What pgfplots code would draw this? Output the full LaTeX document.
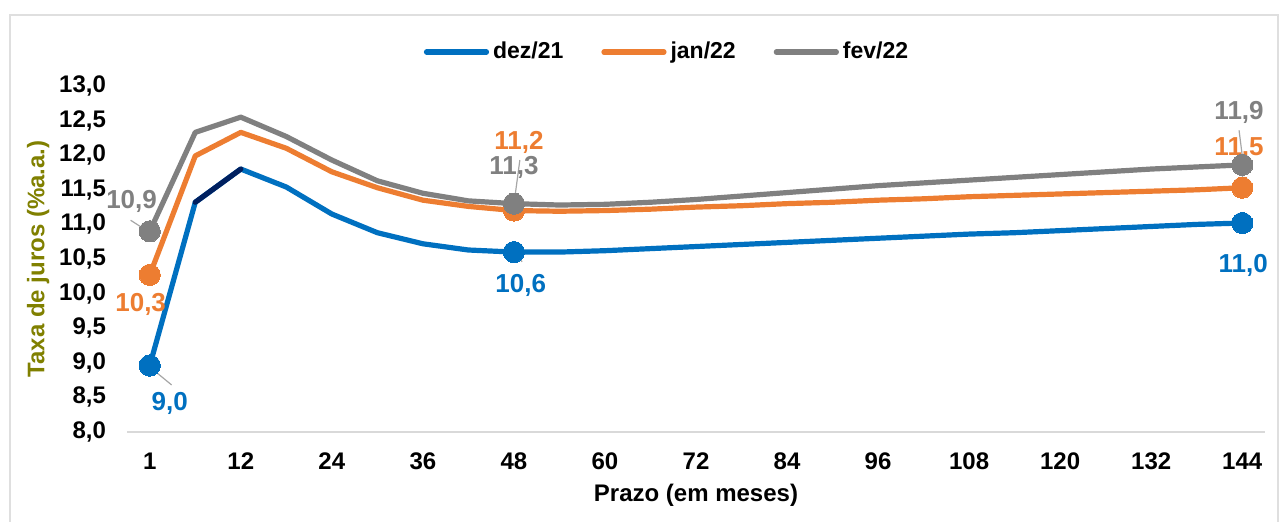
\documentclass[border=0pt]{standalone}
\usepackage{fontspec}
\setmainfont{Liberation Sans}
\usepackage{pgfplots}
\usepackage{pgfplotstable}
\pgfplotsset{compat=1.18}
\definecolor{cblue}{RGB}{0,112,192}
\definecolor{corange}{RGB}{237,125,49}
\definecolor{cgray}{RGB}{128,128,128}
\definecolor{cnavy}{RGB}{0,32,96}
\definecolor{colive}{RGB}{128,128,0}
\definecolor{cleader}{RGB}{166,166,166}

\pgfplotstableread{
i dez jan fev
0 8.96 10.27 10.90
1 11.32 11.99 12.33
2 11.80 12.33 12.55
3 11.54 12.10 12.27
4 11.15 11.76 11.93
5 10.88 11.53 11.63
6 10.72 11.35 11.45
7 10.63 11.26 11.34
8 10.60 11.20 11.30
9 10.60 11.19 11.28
10 10.62 11.20 11.29
11 10.65 11.22 11.32
12 10.68 11.25 11.36
13 10.71 11.27 11.41
14 10.74 11.30 11.46
15 10.77 11.32 11.51
16 10.80 11.35 11.56
17 10.83 11.37 11.60
18 10.86 11.40 11.64
19 10.88 11.42 11.68
20 10.91 11.44 11.72
21 10.94 11.46 11.76
22 10.97 11.48 11.80
23 11.00 11.50 11.83
24 11.02 11.53 11.86
}\curves

\newcommand{\tfont}{\fontsize{12bp}{14bp}\selectfont\bfseries}
\newcommand{\gfont}{\fontsize{11.5bp}{14bp}\selectfont\bfseries}
\newcommand{\lfont}{\fontsize{12bp}{14bp}\selectfont\bfseries}
\newcommand{\dfont}{\fontsize{13bp}{15bp}\selectfont\bfseries}

\begin{document}
\begin{tikzpicture}
\useasboundingbox (0,0) rectangle (640bp,261bp);
\draw[gray!25, line width=0.6bp] (5bp,-2bp) rectangle (639bp,253.5bp);
\begin{axis}[
  at={(63.5bp,45bp)}, anchor=south west,
  width=569bp, height=173bp, scale only axis,
  xmin=-0.5, xmax=24.5, ymin=8, ymax=13,
  clip=false,
  axis x line*=bottom, axis y line*=left,
  x axis line style={draw=gray!30, line width=1bp, -},
  y axis line style={draw=none},
  major tick length=0pt,
  xtick={0,2,4,6,8,10,12,14,16,18,20,22,24},
  xticklabels={1,12,24,36,48,60,72,84,96,108,120,132,144},
  ytick={8,8.5,9,9.5,10,10.5,11,11.5,12,12.5,13},
  yticklabel style={/pgf/number format/fixed, /pgf/number format/fixed zerofill, /pgf/number format/precision=1, /pgf/number format/use comma, /pgf/number format/assume math mode=true, xshift=-7bp},
  ticklabel style={font=\tfont, text=black},
  xticklabel style={yshift=-7bp},
  xlabel={Prazo (em meses)},
  ylabel={Taxa de juros (\%a.a.)},
  every axis x label/.style={at={(axis description cs:0.5,-0.182)}, anchor=center, font=\lfont},
  every axis y label/.style={at={(axis description cs:-0.078,0.5)}, anchor=center, rotate=90, font=\lfont, text=colive},
  legend style={at={(axis description cs:0.4754,1.098)}, anchor=center, draw=none, fill=none,
    legend columns=3, font=\gfont, /tikz/every even column/.append style={column sep=17bp}},
  legend image code/.code={\draw[#1, line cap=round] (0bp,0bp) -- (30bp,0bp);},
  every axis plot/.append style={line width=2.6bp, line join=round, line cap=round},
]
\addplot[cblue, mark=*, mark indices={1,9,25}, mark size=5.3bp, mark options={fill=cblue, draw=cblue, line width=0pt}] table[x=i, y=dez] {\curves};
\addplot[cnavy, forget plot] coordinates {(1,11.32) (2,11.80)};
\addplot[corange, mark=*, mark indices={1,9,25}, mark size=5.3bp, mark options={fill=corange, draw=corange, line width=0pt}] table[x=i, y=jan] {\curves};
\addplot[cgray, mark=*, mark indices={1,9,25}, mark size=5.3bp, mark options={fill=cgray, draw=cgray, line width=0pt}] table[x=i, y=fev] {\curves};
\legend{dez/21, jan/22, fev/22}

% leader lines
\draw[cleader, line width=0.6bp] (axis cs:0,8.94) -- (axis cs:0.48,8.68);
\draw[cleader, line width=0.6bp] (axis cs:-0.42,11.06) -- (axis cs:-0.02,10.89);
\draw[cleader, line width=0.6bp] (axis cs:8,10.60) -- (axis cs:8.18,10.46);
\draw[cleader, line width=0.6bp] (axis cs:7.99,11.24) -- (axis cs:8.13,11.93);
\draw[cleader, line width=0.6bp] (axis cs:23.93,12.36) -- (axis cs:24.02,11.89);
\draw[cleader, line width=0.6bp] (axis cs:23.98,11.96) -- (axis cs:24.02,11.53);

% data labels
\node[font=\dfont, text=cblue] at (axis cs:0.44,8.42) {9,0};
\node[font=\dfont, text=corange] at (axis cs:-0.2,9.84) {10,3};
\node[font=\dfont, text=cgray] at (axis cs:-0.40,11.33) {10,9};
\node[font=\dfont, text=cblue] at (axis cs:8.15,10.12) {10,6};
\node[font=\dfont, text=corange] at (axis cs:8.11,12.18) {11,2};
\node[font=\dfont, text=cgray] at (axis cs:8.0,11.83) {11,3};
\node[font=\dfont, text=cgray] at (axis cs:23.93,12.62) {11,9};
\node[font=\dfont, text=corange] at (axis cs:23.93,12.10) {11,5};
\node[font=\dfont, text=cblue] at (axis cs:24.02,10.41) {11,0};
\end{axis}
\end{tikzpicture}
\end{document}
